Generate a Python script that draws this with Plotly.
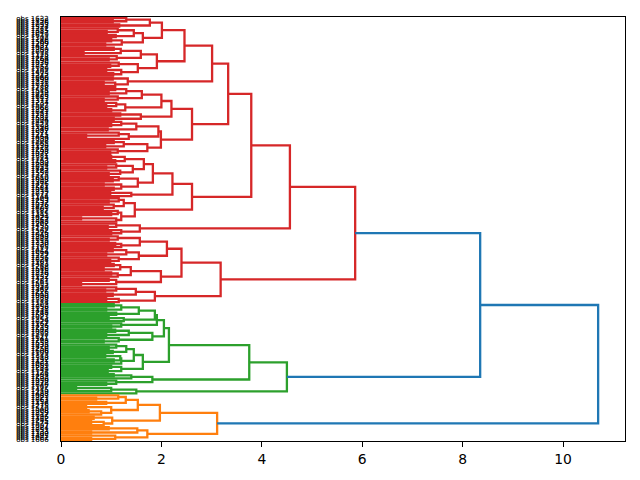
import sys
import plotly.graph_objects as go

# Adjacent-leaf merge heights (cophenetic distance between neighbouring leaves),
# read top-to-bottom from the picture. The tree is the Cartesian tree of these gaps.
red_gaps = [
    1.30, 1.03, 1.77, 1.16, 2.01,
    1.13, 0.91, 1.45, 1.09, 1.63, 1.00, 1.21, 0.88, 2.46,
    1.05, 1.19, 0.45, 1.59, 1.11, 0.95, 1.91, 1.15, 0.98, 1.53, 0.90, 1.20, 1.04, 3.01,
    1.03, 1.33, 0.85, 1.08, 3.33,
    1.08, 1.30, 0.95, 1.61, 1.13, 0.85, 2.00, 1.10, 0.90, 1.28, 1.00, 2.20,
    1.18, 1.59, 1.05, 2.61,
    1.20, 1.00, 1.50, 0.93, 1.94, 1.15, 0.50, 1.35, 1.99,
    1.05, 1.25, 0.88, 1.72, 1.13, 0.98, 3.79,
    1.00, 1.27, 1.08, 1.65, 1.10, 0.90, 1.43, 1.18, 0.95, 1.83,
    1.15, 1.03, 1.53, 0.85, 1.20, 1.05, 2.22, 0.98, 1.40, 2.61,
    1.15, 0.95, 1.25, 1.05, 0.83, 1.47, 1.13, 1.00, 1.20, 0.40, 1.10, 4.56,
    1.10, 0.93, 1.57, 1.20, 1.00, 5.86,
    1.13, 0.95, 1.57, 1.08, 1.20, 2.11, 1.03, 1.30, 0.90, 1.55, 1.15, 0.98, 2.40,
    1.05, 1.18, 0.85, 1.39, 1.00, 1.13, 1.99, 0.95, 1.10, 0.40, 3.18,
    1.10, 0.88, 1.49, 1.03, 1.87, 0.90, 1.15,
]
green_gaps = [
    1.05, 1.20, 0.90, 1.55, 1.10, 1.87, 0.95, 1.25, 1.91, 1.20, 1.00, 2.05,
    1.08, 1.35, 0.90, 1.82, 1.15, 0.85, 2.15,
    1.10, 0.95, 1.30, 1.03, 1.45, 0.88, 1.18, 1.05, 1.20, 1.63, 1.00, 1.20, 0.93, 3.75,
    1.05, 1.40, 1.82, 1.10, 0.90, 4.50,
    0.30, 1.00, 1.50,
]
orange_gaps = [
    1.14, 0.70, 1.29, 0.90, 1.53, 0.50, 1.00, 0.55, 0.80, 1.97,
    0.65, 1.02, 0.60, 0.85, 3.11,
    0.95, 1.52, 0.60, 1.72, 1.08, 0.60,
]
red_green_join = 8.35
root_join = 10.70
color_threshold = 7.49

label_prefix = "obs "
leaf_ids = [
    1632, 1458, 1176, 1093, 1524, 1271, 1385, 1047, 1619, 1302,
    1148, 1566, 1209, 1437, 1081, 1350, 1693, 1125, 1478, 1264,
    1590, 1036, 1317, 1652, 1189, 1403, 1575, 1242, 1060, 1499,
    1336, 1611, 1170, 1288, 1545, 1019, 1426, 1683, 1113, 1371,
    1234, 1507, 1068, 1395, 1641, 1157, 1282, 1532, 1004, 1449,
    1623, 1198, 1346, 1087, 1571, 1215, 1464, 1039, 1308, 1665,
    1136, 1417, 1259, 1598, 1072, 1381, 1514, 1163, 1630, 1294,
    1052, 1443, 1187, 1559, 1325, 1610, 1098, 1362, 1476, 1221,
    1584, 1011, 1339, 1672, 1144, 1409, 1253, 1537, 1076, 1428,
    1601, 1182, 1315, 1491, 1029, 1367, 1648, 1207, 1455, 1130,
    1562, 1276, 1043, 1398, 1687, 1119, 1330, 1520, 1195, 1412,
    1064, 1579, 1237, 1356, 1624, 1101, 1483, 1268, 1546, 1015,
    1376, 1639, 1152, 1421, 1287, 1593, 1057, 1340, 1467, 1226,
    1615, 1090, 1389, 1528, 1174, 1303, 1656, 1138, 1441, 1248,
    1587, 1023, 1354, 1679, 1161, 1436, 1213, 1502, 1078, 1392,
    1627, 1141, 1298, 1553, 1035, 1470, 1256, 1606, 1109, 1343,
    1518, 1192, 1431, 1067, 1659, 1281, 1549, 1126, 1404, 1233,
    1596, 1050, 1372, 1640, 1167, 1445, 1219, 1488, 1083, 1321,
    1663, 1154, 1416, 1275, 1540, 1008, 1359, 1617, 1196, 1462,
    1245, 1574, 1097, 1384, 1651, 1133, 1309, 1495, 1061, 1666,
]

cluster_colors = {"red": "#d62728", "green": "#2ca02c", "orange": "#ff7f0e", "above": "#1f77b4"}

gaps = red_gaps + [red_green_join] + green_gaps + [root_join] + orange_gaps
leaf_cluster = (["red"] * (len(red_gaps) + 1) + ["green"] * (len(green_gaps) + 1)
                + ["orange"] * (len(orange_gaps) + 1))
n = len(gaps) + 1
leaf_y = [10 * n - 5 - 10 * k for k in range(n)]
labels = [label_prefix + str(v) for v in leaf_ids[:n]]

segs = {c: ([], []) for c in cluster_colors}


def build(lo, hi):
    if lo == hi:
        return 0.0, leaf_y[lo], leaf_cluster[lo]
    i = max(range(lo, hi), key=lambda j: gaps[j])
    lh, ly, lc = build(lo, i)
    rh, ry, rc = build(i + 1, hi)
    h = gaps[i]
    col = lc if (h < color_threshold and lc == rc) else "above"
    xs, ys = segs[col]
    xs.extend([lh, h, h, rh, None])
    ys.extend([ly, ly, ry, ry, None])
    return h, (ly + ry) / 2, col


sys.setrecursionlimit(10000)
build(0, n - 1)

fig = go.Figure()
for c in ["red", "green", "orange", "above"]:
    xs, ys = segs[c]
    fig.add_trace(go.Scatter(x=xs, y=ys, mode="lines",
                             line=dict(color=cluster_colors[c], width=2.3),
                             hoverinfo="skip", showlegend=False))

fig.update_layout(
    width=640, height=480,
    margin=dict(l=61, r=15, t=17, b=39),
    plot_bgcolor="white", paper_bgcolor="white",
    font=dict(family="DejaVu Sans", color="#000000"),
)
fig.update_xaxes(
    range=[0, root_join * 1.05], showgrid=False, zeroline=False,
    showline=True, mirror=True, linecolor="black", linewidth=1,
    tickmode="array", tickvals=[0, 2, 4, 6, 8, 10],
    ticks="outside", ticklen=5, tickwidth=1, tickcolor="black",
    tickfont=dict(size=13.9, family="DejaVu Sans", color="#000000"),
)
fig.update_yaxes(
    range=[0, 10 * n], showgrid=False, zeroline=False,
    showline=True, mirror=True, linecolor="black", linewidth=1,
    tickmode="array", tickvals=leaf_y, ticktext=labels, ticks="",
    ticklabelstandoff=10,
    tickfont=dict(size=7, family="DejaVu Sans", color="#000000",
                  shadow="0px 0px 0.5px rgba(0,0,0,0.3)"),
)

fig.write_html("out.html")
